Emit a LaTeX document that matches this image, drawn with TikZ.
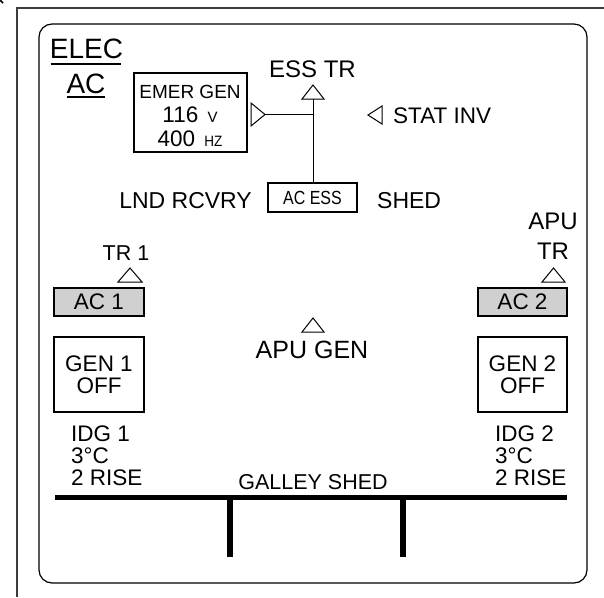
\documentclass[tikz,border=0pt]{standalone}
\usepackage{fontspec}
\setmainfont{Liberation Sans}
\newcommand\fsz[1]{\fontsize{#1}{#1}\selectfont}
\definecolor{acgray}{RGB}{208,208,208}
\definecolor{framegray}{RGB}{60,60,60}
\begin{document}
\begin{tikzpicture}[x=1pt,y=-1pt,
  txt/.style={inner sep=0pt, anchor=base, font={\fsz{22.5}}},
  box/.style={draw, line width=1.2pt, inner sep=0pt},
  acbox/.style={box, fill=acgray, minimum height=28pt, font={\fsz{22.5}}},
  genbox/.style={box, minimum height=75pt, align=center, font={\fsz{22.5}}},
  tri/.style={draw, line width=1pt, fill=white, line join=miter},
  wire/.style={line width=1pt},
  bus/.style={line width=5.5pt},
]
\useasboundingbox (0,0) rectangle (604,597);
% outer frame
\draw[framegray, line width=1.5pt] (17,597) -- (17,8) -- (604,8);
\draw[line width=1.5pt] (0,0) -- (3,3);
% inner rounded panel
\draw[line width=1.2pt, rounded corners=13pt] (39,24) rectangle (587,583);

% title
\node[txt, font={\fsz{28}}] (elec) at (86.5,58) {ELEC};
\draw[line width=1.2pt] ([xshift=1pt,yshift=-6pt]elec.base west) -- ([xshift=-2pt,yshift=-6pt]elec.base east);
\node[txt, font={\fsz{28}}] (ac) at (86,93) {AC};
\draw[line width=1.2pt] ([xshift=1pt,yshift=-4pt]ac.base west) -- ([xshift=-1pt,yshift=-4pt]ac.base east);

% emergency generator
\node[box, minimum width=113pt, minimum height=79pt] (emer) at (190.5,112.5) {};
\node[txt, font={\fsz{19}}] (emert) at (190,98) {EMER GEN};
\node[txt] (emerv) at (190,122) {116\hspace{3pt} {\fsz{15}V}};
\node[txt] (emerf) at (190,146) {400\hspace{3pt} {\fsz{15}\scalebox{0.9}[1]{HZ}}};

% ESS TR
\node[txt, font={\fsz{24}}] (esstrt) at (312.5,77) {ESS TR};
\draw[tri] (302,99) -- (313,85) -- (324,99) -- cycle;
\coordinate (esstr) at (313,99);
\draw[tri] (251,103) -- (265,114.5) -- (251,126) -- cycle;
\coordinate (emtip) at (265,114.5);

% STAT INV
\draw[tri] (382,106) -- (368,115) -- (382,124) -- cycle;
\node[txt, anchor=base west] (statinv) at (393,123) {STAT INV};

% AC ESS row
\node[txt, anchor=base east, font={\fsz{23}}] (lnd) at (252,208) {LND RCVRY};
\node[box, minimum width=89pt, minimum height=29pt, font={\fsz{19}}] (acess) at (312.5,197.5) {\scalebox{0.84}[1]{AC ESS}};
\node[txt, anchor=base west, font={\fsz{23}}] (shed) at (377,208) {SHED};

\draw[wire] (emtip) -- (emtip -| esstr);
\draw[wire] (esstr) -- (acess.north -| esstr);

% TR 1 / APU TR
\node[txt, font={\fsz{21.5}}] (tr1) at (126,260) {TR 1};
\draw[tri] (118,282) -- (130,268) -- (142,282) -- cycle;
\node[txt, font={\fsz{24}}] (aputr1) at (553,229) {APU};
\node[txt, font={\fsz{24}}] (aputr2) at (553,259) {TR};
\draw[tri] (542,282) -- (553.5,268) -- (565,282) -- cycle;

% AC buses
\node[acbox, minimum width=90pt] (ac1) at (99,302) {AC 1};
\node[acbox, minimum width=89pt] (ac2) at (522.5,302) {AC 2};

% APU GEN
\draw[tri] (302,332) -- (313,318) -- (324,332) -- cycle;
\node[txt, font={\fsz{25}}] (apugen) at (312,358) {APU GEN};

% generators
\node[genbox, minimum width=90pt] (gen1) at (99,374.5) {GEN 1\\OFF};
\node[genbox, minimum width=89pt] (gen2) at (522.5,374.5) {GEN 2\\OFF};

% IDG
\node[txt, anchor=base west] (idg1a) at (71,441) {IDG 1};
\node[txt, anchor=base west] (idg1b) at (71,463) {3°C};
\node[txt, anchor=base west] (idg1c) at (71,485) {2 RISE};
\node[txt, anchor=base west] (idg2a) at (495,441) {IDG 2};
\node[txt, anchor=base west] (idg2b) at (495,463) {3°C};
\node[txt, anchor=base west] (idg2c) at (495,485) {2 RISE};

% galley
\node[txt, font={\fsz{21.5}}] (galley) at (313,489) {GALLEY SHED};
\coordinate (busl) at (55,497.5);
\coordinate (busr) at (567,497.5);
\coordinate (d1t) at (230,497.5);
\coordinate (d1b) at (230,557);
\coordinate (d2t) at (403,497.5);
\coordinate (d2b) at (403,557);
\draw[bus] (busl) -- (busr);
\draw[line width=6pt] (d1t) -- (d1b);
\draw[line width=6pt] (d2t) -- (d2b);
\end{tikzpicture}
\end{document}
